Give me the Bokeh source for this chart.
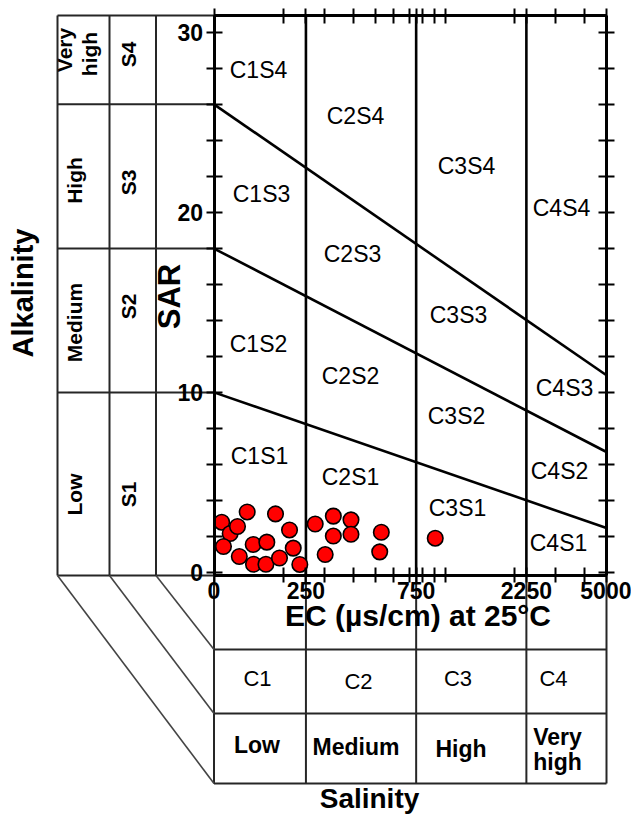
import math
from bokeh.plotting import figure
from bokeh.models import Range1d, LinearAxis, LogAxis, FixedTicker
from bokeh.core.properties import value
from bokeh.embed import file_html
from bokeh.resources import INLINE

# ---------------- data ----------------
ec_values = [108, 117.5, 126.4, 139.2, 109.9, 128.7, 147.8, 169.3, 148.2, 167.8, 192.1, 184.6,
             212.3, 220.3, 235.2, 274.2, 302.9, 328.5, 328.5, 391.7, 391.7, 530, 521.6, 907.2]
sar_values = [2.77, 2.14, 2.53, 3.34, 1.42, 0.86, 1.53, 1.66, 0.43, 0.43, 0.78, 3.23,
              2.34, 1.33, 0.42, 2.67, 0.97, 3.11, 2.00, 2.90, 2.10, 2.21, 1.12, 1.88]

ec_class_limits = [100, 250, 750, 2250, 5000]
ec_tick_labels = ["0", "250", "750", "2250", "5000"]
ec_minor_ticks = [200, 300, 400, 500, 600, 700, 800, 900, 1000, 2000, 3000, 4000]
sar_major_ticks = [0, 10, 20, 30]
sar_minor_ticks = [2, 4, 6, 8, 12, 14, 16, 18, 22, 24, 26, 28]

# sodium hazard boundaries: SAR = a - b * log10(EC)
boundary_a = [18.87, 31.31, 43.75]
boundary_b = [4.44, 6.66, 8.87]

salinity_classes = ["C1", "C2", "C3", "C4"]
salinity_levels = ["Low", "Medium", "High", "Very high"]
sodium_classes = ["S1", "S2", "S3", "S4"]
sodium_levels = ["Low", "Medium", "High", "Very high"]
zone_names = ["C1S4", "C2S4", "C3S4", "C4S4",
              "C1S3", "C2S3", "C3S3", "C4S3",
              "C1S2", "C2S2", "C3S2", "C4S2",
              "C1S1", "C2S1", "C3S1", "C4S1"]

# ---------------- layout helpers (canvas pixels -> data) ----------------
W, H = 631, 818
PPD = 231.02          # pixels per decade of EC
X0 = 213.5            # pixel of EC = 100
Y0 = 571.5            # pixel of SAR = 0
PPS = 17.98           # pixels per SAR unit


def ecx(px):
    return 10 ** (2 + (px - X0) / PPD)


def sary(py):
    return (Y0 - py) / PPS


TOP = sary(15)
BOT = sary(575)

p = figure(width=W, height=H, x_axis_type="log", x_axis_location=None, y_axis_location=None,
           x_range=Range1d(ecx(0), ecx(W)), y_range=Range1d(sary(H), sary(0)),
           toolbar_location=None, output_backend="svg", min_border=0)
p.outline_line_color = None
p.background_fill_color = "white"
p.border_fill_color = "white"
p.grid.visible = False

FONT = "Liberation Sans"
TABLE_COL = "#262626"

# ---------------- tables (left: sodium hazard, bottom: salinity hazard) ----------------
left_cols_px = [57, 109, 155.5]
row_sar = [a - b * 2 for a, b in zip(boundary_a, boundary_b)]  # boundaries at EC = 100
x_left_edge = ecx(57)

p.segment(x0=[ecx(c) for c in left_cols_px], y0=[BOT] * 3,
          x1=[ecx(c) for c in left_cols_px], y1=[TOP] * 3, line_color=TABLE_COL, line_width=2)
hy = [TOP, BOT] + row_sar
p.segment(x0=[x_left_edge] * len(hy), y0=hy, x1=[100] * len(hy), y1=hy,
          line_color=TABLE_COL, line_width=2)
row_px = [649, 713, 783]
p.segment(x0=[100] * 3, y0=[sary(r) for r in row_px], x1=[5000] * 3, y1=[sary(r) for r in row_px],
          line_color=TABLE_COL, line_width=2)
p.segment(x0=ec_class_limits, y0=[sary(783)] * 5, x1=ec_class_limits, y1=[BOT] * 5,
          line_color=TABLE_COL, line_width=2)
p.segment(x0=[ecx(c) for c in left_cols_px], y0=[BOT] * 3,
          x1=[100] * 3, y1=[sary(783), sary(713), sary(649)], line_color="#444444", line_width=1.6)

# ---------------- class boundaries in the diagram ----------------
inner = ec_class_limits[1:-1]
p.segment(x0=inner, y0=[BOT] * 3, x1=inner, y1=[TOP] * 3, line_color="black", line_width=2.6)
for a, b in zip(boundary_a, boundary_b):
    xs = [ec_class_limits[0], ec_class_limits[-1]]
    p.line(x=xs, y=[a - b * math.log10(v) for v in xs], line_color="black", line_width=2.6)

# ---------------- samples ----------------
p.scatter(x=ec_values, y=sar_values, size=15.5, marker="circle", fill_color="#ff0000",
          line_color="black", line_width=1.6)


# ---------------- axes ----------------
def style(ax, show_labels, side):
    ax.axis_line_width = 3
    ax.axis_line_color = "black"
    ax.major_tick_line_width = 2
    ax.minor_tick_line_width = 2
    ax.major_tick_line_color = "black"
    ax.minor_tick_line_color = "black"
    ax.major_tick_in = 8
    ax.minor_tick_in = 8
    ax.major_tick_out = 7 if side in ("below", "above") else 8
    ax.minor_tick_out = 7 if side in ("below", "above") else 8
    ax.major_label_text_font = FONT
    ax.major_label_text_font_style = "bold"
    ax.major_label_text_font_size = "23px"
    ax.major_label_text_color = "black" if show_labels else None
    ax.axis_label = None


xb = LogAxis(fixed_location=BOT, bounds=(100, 5000),
             ticker=FixedTicker(ticks=ec_class_limits, minor_ticks=ec_minor_ticks),
             major_label_overrides={float(t): s for t, s in zip(ec_class_limits, ec_tick_labels)})
style(xb, True, "below")
xb.major_label_standoff = -1
p.add_layout(xb, "below")

xt = LogAxis(fixed_location=TOP, bounds=(100, 5000),
             ticker=FixedTicker(ticks=ec_class_limits, minor_ticks=ec_minor_ticks))
style(xt, False, "above")
p.add_layout(xt, "above")

yl = LinearAxis(fixed_location=100, bounds=(BOT, TOP),
                ticker=FixedTicker(ticks=sar_major_ticks, minor_ticks=sar_minor_ticks))
style(yl, True, "left")
yl.major_label_standoff = 3
p.add_layout(yl, "left")

yr = LinearAxis(fixed_location=5000, bounds=(BOT, TOP),
                ticker=FixedTicker(ticks=sar_major_ticks, minor_ticks=sar_minor_ticks))
style(yr, False, "right")
p.add_layout(yr, "right")


# ---------------- texts ----------------
def txt(items, size, bold=False, rotated=False, color="black"):
    # (px, py) = centre of the capital-letter band, in canvas pixels
    off = -0.07 * size
    xs, ys, ts = [], [], []
    for t, px, py in items:
        if rotated:
            xs.append(ecx(px + off))
            ys.append(sary(py))
        else:
            xs.append(ecx(px))
            ys.append(sary(py + off))
        ts.append(t)
    p.text(x=xs, y=ys, text=ts, angle=(math.pi / 2 if rotated else 0.0),
           text_font=value(FONT), text_font_size=value(f"{size}px"),
           text_font_style=value("bold" if bold else "normal"),
           text_align=value("center"), text_baseline=value("alphabetic"), text_color=color)


zone_px = [(258, 71), (355, 117), (466, 167), (561, 209),
           (261, 195), (352, 255), (458, 316), (564, 389),
           (258, 345), (350, 377), (456, 417), (559, 472),
           (259, 457), (350, 478), (457, 509), (558, 544)]
txt([(n, x, y) for n, (x, y) in zip(zone_names, zone_px)], 23, color="#000000")

c_px = [(257, 680), (358, 683), (457.5, 680), (553, 680)]
txt([(n, x, y) for n, (x, y) in zip(salinity_classes, c_px)], 22)
lvl_words = salinity_levels[:3] + salinity_levels[3].split(" ")
lvl_px = [(256.5, 746.5), (355.5, 748.5), (460.5, 750), (557, 738.5), (557, 763)]
txt([(n, x, y) for n, (x, y) in zip(lvl_words, lvl_px)], 23, bold=True)

s_px = [(129.6, 494), (129.6, 306), (129.6, 182), (129.6, 54)]
txt([(n, x, y) for n, (x, y) in zip(sodium_classes, s_px)], 21, bold=True, rotated=True)
sw = sodium_levels[:3] + sodium_levels[3].split(" ")
sw_px = [(75.6, 494), (75.6, 322), (75.6, 180), (65.6, 49.5), (90.6, 53.5)]
txt([(n, x, y) for n, (x, y) in zip(sw, sw_px)], 21, bold=True, rotated=True)

txt([("SAR", 171, 296)], 31, bold=True, rotated=True)
txt([("Alkalinity", 25, 292.5)], 29, bold=True, rotated=True)
txt([("EC (\u00b5s/cm) at 25\u00b0C", 417.5, 617)], 30, bold=True)
txt([("Salinity", 369, 800)], 28, bold=True)

open("out.html", "w").write(file_html(p, INLINE))
